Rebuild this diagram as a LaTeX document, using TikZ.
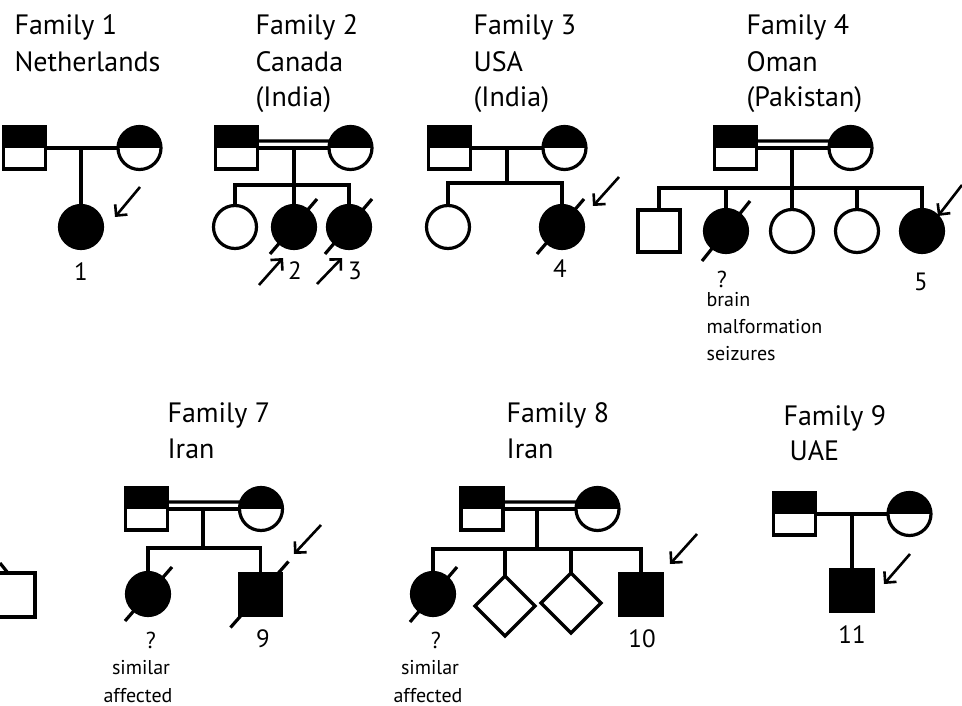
\documentclass[tikz,border=0pt]{standalone}
\usepackage{fontspec}
\setmainfont{PT Sans}
\usetikzlibrary{arrows.meta,shapes.geometric}

\begin{document}
\begin{tikzpicture}[x=1pt,y=-1pt,
  line width=3.2pt,
  male/.style={draw,rectangle,minimum size=42pt,inner sep=0pt,outer sep=0pt},
  female/.style={draw,circle,minimum size=43pt,inner sep=0pt,outer sep=0pt},
  unknownsex/.style={draw,diamond,minimum size=60pt,inner sep=0pt,outer sep=0pt},
  carrier/.style={path picture={\fill[black] (path picture bounding box.north west) rectangle (path picture bounding box.east);}},
  affected/.style={fill=black},
  proband/.style={line width=2.6pt,-{Straight Barb[length=8pt,width=16pt,line width=2.6pt]}},
  title/.style={anchor=base west,inner sep=0pt,font=\fontsize{28}{34}\selectfont},
  num/.style={anchor=base,inner sep=0pt,font=\fontsize{25}{30}\selectfont},
  qmark/.style={anchor=base,inner sep=0pt,font=\fontsize{23}{28}\selectfont},
  note/.style={anchor=base,inner sep=0pt,font=\fontsize{20}{27}\selectfont},
  notel/.style={note,anchor=base west},
]
\useasboundingbox (0,0) rectangle (962,706);

% ---------------- Family 1 ----------------
\node[title] (t1a) at (13,35) {Family 1};
\node[title] (t1b) at (13,72) {Netherlands};
\node[male,carrier] (f1) at (24.5,148) {};
\node[female,carrier] (m1) at (139.5,148) {};
\node[female,affected] (c1) at (81,227) {};
\draw (f1.east) -- (m1.west);
\coordinate (d1) at (81,148);
\draw (d1) -- (c1.north);
\coordinate (p1a) at (140,187); \coordinate (p1b) at (115,217);
\draw[proband] (p1a) -- (p1b);
\node[num] (n1) at (81,280) {1};

% ---------------- Family 2 ----------------
\node[title] (t2a) at (254,35) {Family 2};
\node[title] (t2b) at (254,72) {Canada};
\node[title] (t2c) at (254,107) {(India)};
\node[male,carrier] (f2) at (236.5,148) {};
\node[female,carrier] (m2) at (350.5,148) {};
\draw ([yshift=7pt]f2.east) -- (m2.161);
\draw (f2.east) -- (m2.west);
\coordinate (d2) at (294,148); \coordinate (s2) at (294,185);
\node[female] (k2a) at (235,227) {};
\node[female,affected] (k2b) at (294,227) {};
\node[female,affected] (k2c) at (349,227) {};
\draw (d2) -- (s2) -- (k2b.north);
\draw (k2a.north) |- (s2) -| (k2c.north);
\draw ([shift={(-24,27)}]k2b.center) -- ([shift={(23,-28)}]k2b.center);
\draw ([shift={(-24,27)}]k2c.center) -- ([shift={(23,-28)}]k2c.center);
\coordinate (p2a) at (259,285); \coordinate (p2b) at (283,258);
\coordinate (p3a) at (317,284); \coordinate (p3b) at (342,258);
\draw[proband] (p2a) -- (p2b);
\draw[proband] (p3a) -- (p3b);
\node[num] (n2) at (295,279) {2};
\node[num] (n3) at (355,279) {3};

% ---------------- Family 3 ----------------
\node[title] (t3a) at (472,35) {Family 3};
\node[title] (t3b) at (472,72) {USA};
\node[title] (t3c) at (472,107) {(India)};
\node[male,carrier] (f3) at (449.5,148) {};
\node[female,carrier] (m3) at (564.5,148) {};
\draw (f3.east) -- (m3.west);
\coordinate (d3) at (507,148); \coordinate (s3) at (507,183);
\node[female] (k3a) at (448,227) {};
\node[female,affected] (k3b) at (562,227) {};
\draw (d3) -- (s3);
\draw (k3a.north) |- (s3) -| (k3b.north);
\draw ([shift={(-25,27)}]k3b.center) -- ([shift={(22,-28)}]k3b.center);
\coordinate (p4a) at (619,177); \coordinate (p4b) at (593,206);
\draw[proband] (p4a) -- (p4b);
\node[num] (n4) at (560,277) {4};

% ---------------- Family 4 ----------------
\node[title] (t4a) at (745,35) {Family 4};
\node[title] (t4b) at (745,72) {Oman};
\node[title] (t4c) at (745,107) {(Pakistan)};
\node[male,carrier] (f4) at (735.5,148) {};
\node[female,carrier] (m4) at (850.5,148) {};
\draw ([yshift=7pt]f4.east) -- (m4.161);
\draw (f4.east) -- (m4.west);
\coordinate (d4) at (792,148); \coordinate (s4) at (792,188);
\node[male] (k4a) at (659,231) {};
\node[female,affected] (k4b) at (726,231) {};
\node[female] (k4c) at (792,231) {};
\node[female] (k4d) at (857,231) {};
\node[female,affected] (k4e) at (922,231) {};
\draw (d4) -- (s4) -- (k4c.north);
\draw (k4a.north) |- (s4) -| (k4e.north);
\draw (k4b.north) -- (k4b.north |- s4);
\draw (k4d.north) -- (k4d.north |- s4);
\draw ([shift={(-24,30)}]k4b.center) -- ([shift={(24,-30)}]k4b.center);
\coordinate (p5a) at (962,185); \coordinate (p5b) at (938,216);
\draw[proband] (p5a) -- (p5b);
\node[qmark] (q4) at (722,287) {?};
\node[notel] (b4a) at (705,306) {brain};
\node[notel] (b4b) at (705,333) {malformation};
\node[notel] (b4c) at (705,360) {seizures};
\node[num] (n5) at (921,290) {5};

% ---------------- Family 6 (edge) ----------------
\draw (0,573) -- (35,573) -- (35,617) -- (0,617);
\draw (0,563) -- (8,573);

% ---------------- Family 7 ----------------
\node[title] (t7a) at (166,422) {Family 7};
\node[title] (t7b) at (166,458) {Iran};
\node[male,carrier] (f7) at (146.5,509) {};
\node[female,carrier] (m7) at (261,509) {};
\draw ([yshift=7pt]f7.east) -- (m7.161);
\draw (f7.east) -- (m7.west);
\coordinate (d7) at (203,509); \coordinate (s7) at (203,548);
\node[female,affected] (k7a) at (148,594) {};
\node[male,affected] (k7b) at (260.5,594.5) {};
\draw (d7) -- (s7);
\draw (k7a.north) |- (s7) -| (k7b.north);
\draw ([shift={(-23,27)}]k7a.center) -- ([shift={(24,-27)}]k7a.center);
\draw ([shift={(-30,33)}]k7b.center) -- ([shift={(28,-33)}]k7b.center);
\coordinate (p9a) at (321,525); \coordinate (p9b) at (294,554);
\draw[proband] (p9a) -- (p9b);
\node[qmark] (q7) at (151,648) {?};
\node[note] (s7a) at (141,674) {similar};
\node[note] (s7b) at (138,702) {affected};
\node[num] (n9) at (263,647) {9};

% ---------------- Family 8 ----------------
\node[title] (t8a) at (505,422) {Family 8};
\node[title] (t8b) at (505,458) {Iran};
\node[male,carrier] (f8) at (482,509) {};
\node[female,carrier] (m8) at (597.5,509) {};
\draw ([yshift=7pt]f8.east) -- (m8.161);
\draw (f8.east) -- (m8.west);
\coordinate (d8) at (537,509); \coordinate (s8) at (537,549);
\node[female,affected] (k8a) at (433,594) {};
\node[unknownsex] (k8b) at (505,606) {};
\node[unknownsex] (k8c) at (571,603) {};
\node[male,affected] (k8d) at (641,594.5) {};
\draw (d8) -- (s8);
\draw (k8a.north) |- (s8) -| (k8d.north);
\draw (k8b.north) -- (k8b.north |- s8);
\draw (k8c.north) -- (k8c.north |- s8);
\draw ([shift={(-23,28)}]k8a.center) -- ([shift={(24,-27)}]k8a.center);
\coordinate (p10a) at (697,534); \coordinate (p10b) at (670,564);
\draw[proband] (p10a) -- (p10b);
\node[qmark] (q8) at (436,648) {?};
\node[note] (s8a) at (430,674) {similar};
\node[note] (s8b) at (428,702) {affected};
\node[num] (n10) at (642,647) {10};

% ---------------- Family 9 ----------------
\node[title] (t9a) at (782,425) {Family 9};
\node[title] (t9b) at (788,460) {UAE};
\node[male,carrier] (f9) at (794.5,514) {};
\node[female,carrier] (m9) at (909.5,514) {};
\draw (f9.east) -- (m9.west);
\coordinate (d9) at (852,514);
\node[male,affected] (k9) at (852,590.5) {};
\draw (d9) -- (k9.north);
\coordinate (p11a) at (910,554); \coordinate (p11b) at (884,584);
\draw[proband] (p11a) -- (p11b);
\node[num] (n11) at (852,643) {11};
\end{tikzpicture}
\end{document}
